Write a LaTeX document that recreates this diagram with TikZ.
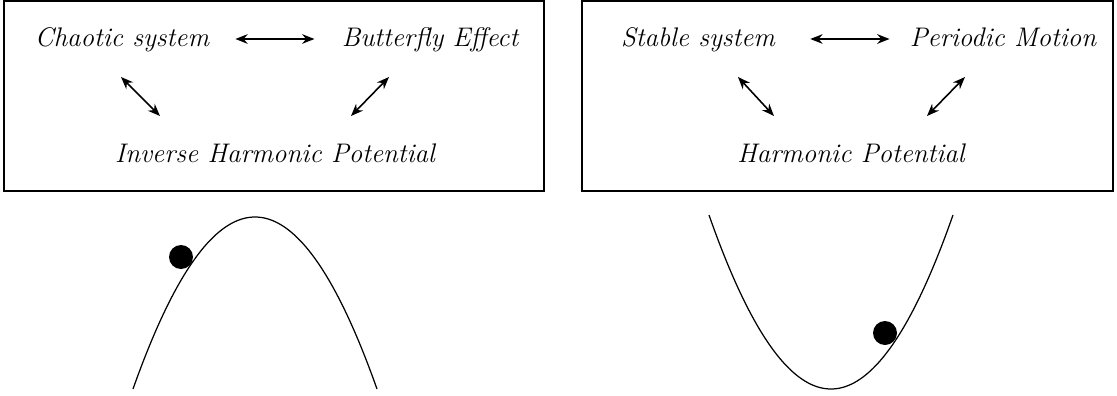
\documentclass[tikz,border=0pt]{standalone}
\usepackage{tikz}
\usetikzlibrary{arrows.meta,positioning}
\begin{document}
\begin{tikzpicture}[x=0.02cm,y=-0.02cm,font=\fontsize{15.3}{18}\selectfont\itshape,
  frame/.style={draw,semithick},
  word/.style={inner sep=2pt,text height=12pt,text depth=4pt},
  ar/.style={{Stealth[length=7pt,width=5.5pt]}-{Stealth[length=7pt,width=5.5pt]},line width=0.9pt},
  curve/.style={line width=0.7pt,smooth},
  ball/.style={fill=black}]
\useasboundingbox (0,0) rectangle (1117,396);

% left: unstable case
\draw[frame] (4,1) rectangle (544,191);
\node[word] (chaos) at (122,39) {Chaotic system};
\node[word] (butterfly) at (430,39) {Butterfly Effect};
\node[word] (inverse) at (275,155) {Inverse Harmonic Potential};
\coordinate (c1) at (121,77);
\coordinate (c2) at (160,116);
\coordinate (b1) at (389,77);
\coordinate (b2) at (351,116);
\draw[ar,shorten <=0.45cm,shorten >=0.47cm] (chaos) -- (butterfly);
\draw[ar] (c1) -- (c2);
\draw[ar] (b1) -- (b2);

\draw[curve] plot[domain=133:377,samples=80] (\x,{217+172*((\x-255)/122)^2});
\fill[ball] (181,257) circle (12);

% right: stable case
\draw[frame] (582,1) rectangle (1113,191);
\node[word] (stable) at (698,39) {Stable system};
\node[word] (periodic) at (1003,39) {Periodic Motion};
\node[word] (harmonic) at (851,155) {Harmonic Potential};
\coordinate (s1) at (738,77);
\coordinate (s2) at (774,116);
\coordinate (p1) at (965,77);
\coordinate (p2) at (927,116);
\draw[ar,shorten <=0.63cm,shorten >=0.33cm] (stable) -- (periodic);
\draw[ar] (s1) -- (s2);
\draw[ar] (p1) -- (p2);

\draw[curve] plot[domain=709:953,samples=80] (\x,{389-174*((\x-831)/122)^2});
\fill[ball] (885,333) circle (12);
\end{tikzpicture}
\end{document}
